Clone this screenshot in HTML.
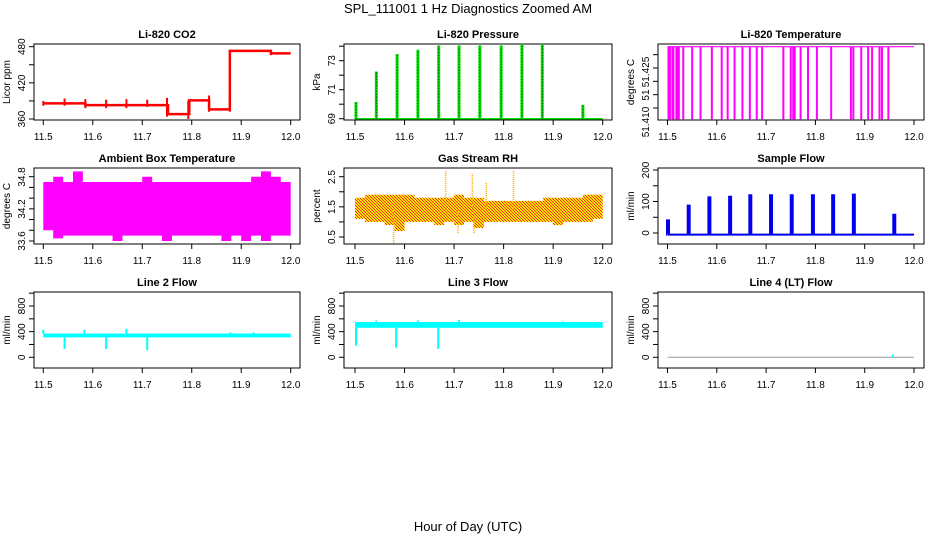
<!DOCTYPE html>
<html><head><meta charset="utf-8"><style>
body{margin:0;background:#fff}
svg{display:block}
text{font-family:"Liberation Sans",sans-serif;fill:#000}
</style></head><body>
<svg id="c" width="936" height="540" viewBox="0 0 936 540" xmlns="http://www.w3.org/2000/svg">
<defs>
<pattern id="rhp" width="3" height="3" patternUnits="userSpaceOnUse"><rect width="3" height="3" fill="#ffe000"/><rect width="1" height="1" fill="#f03010"/><rect x="1" y="1" width="1" height="1" fill="#f03010"/><rect x="2" y="2" width="1" height="1" fill="#f03010"/></pattern>
</defs>
<text x="468" y="13" font-size="13" text-anchor="middle">SPL_111001  1 Hz Diagnostics Zoomed AM</text>
<text x="468" y="531" font-size="13" text-anchor="middle">Hour of Day (UTC)</text>
</svg>
<script>
// ---- data ----
const xTicks = [11.5, 11.6, 11.7, 11.8, 11.9, 12.0];
const co2Times = [11.5, 11.585, 11.752, 11.795, 11.835, 11.877, 11.96, 12.0];
const co2Values = [386, 383, 368, 391, 376, 473, 469, 469];
const co2SpikeTimes = [11.5, 11.543, 11.585, 11.627, 11.668, 11.71, 11.75, 11.793, 11.835, 11.877, 11.96];
const co2SpikeHi = [390, 394, 393, 392, 393, 392, 395, 391, 399, 395, 475];
const co2SpikeLo = [382, 382, 378, 378, 378, 380, 364, 360, 372, 372, 466];
const presTimes = [11.502, 11.543, 11.585, 11.627, 11.669, 11.71, 11.752, 11.795, 11.837, 11.878, 11.96];
const presPeaks = [70.1, 72.2, 73.4, 73.7, 74.0, 74.0, 74.0, 74.0, 74.1, 74.1, 69.9];
const tempDropTimes = [11.502,11.505,11.51,11.512,11.518,11.52,11.523,11.532,11.55,11.567,11.59,11.61,11.622,11.636,11.652,11.667,11.681,11.692,11.735,11.75,11.755,11.758,11.77,11.785,11.803,11.832,11.872,11.877,11.893,11.907,11.915,11.93,11.935,11.948];
const tempTop = 51.433;
const tempLow = 51.4058;
const ambHi = [34.7,34.8,34.7,34.9,34.7,34.7,34.7,34.7,34.7,34.7,34.8,34.7,34.7,34.7,34.7,34.7,34.7,34.7,34.7,34.7,34.7,34.8,34.9,34.8,34.7];
const ambLo = [33.8,33.65,33.7,33.7,33.7,33.7,33.7,33.6,33.7,33.7,33.7,33.7,33.6,33.7,33.7,33.7,33.7,33.7,33.6,33.7,33.6,33.7,33.6,33.7,33.7];
const rhHi = [1.8,1.9,1.9,1.9,1.9,1.9,1.8,1.8,1.8,1.8,1.9,1.8,1.8,1.7,1.7,1.7,1.7,1.7,1.7,1.8,1.8,1.8,1.8,1.9,1.9];
const rhLo = [1.1,1.0,1.0,0.9,0.7,1.0,1.0,1.0,0.9,1.0,0.9,1.0,0.8,1.0,1.0,1.0,1.0,1.0,1.0,1.0,0.9,1.0,1.0,1.0,1.1];
const rhSpikeTimes = [11.683, 11.737, 11.765, 11.82, 11.578, 11.74, 11.708];
const rhSpikeValues = [2.7, 2.6, 2.3, 2.7, 0.3, 0.6, 0.6];
const flowTimes = [11.501, 11.543, 11.585, 11.627, 11.668, 11.71, 11.752, 11.795, 11.836, 11.878, 11.96];
const flowPeaks = [40, 87, 113, 115, 120, 120, 120, 120, 120, 122, 58];
const flowBase = -5;
const line2Band = [310, 370];
const line2DipTimes = [11.543, 11.627, 11.71];
const line2DipValues = [130, 130, 110];
const line2SpikeTimes = [11.5, 11.583, 11.668, 11.878, 11.925];
const line2SpikeValues = [430, 430, 445, 390, 390];
const line3Band = [460, 550];
const line3DipTimes = [11.502, 11.583, 11.668];
const line3DipValues = [180, 150, 130];
const line3SpikeTimes = [11.543, 11.627, 11.71, 11.92];
const line3SpikeValues = [575, 575, 580, 560];
const line4Base = 0;
const line4SpikeTimes = [11.957];
const line4SpikeValues = [45];

// ---- layout ----
const NS = 'http://www.w3.org/2000/svg';
const svg = document.getElementById('c');
const cols = [{l:34,r:300,x0:43.3,x1:290.7},{l:344,r:612,x0:355,x1:602.7},{l:658,r:924,x0:667.5,x1:914}];
const rows = [{t:44,b:120},{t:168,b:244},{t:292,b:368}];
function mk(tag, attrs, parent){const e=document.createElementNS(NS,tag);for(const k in attrs)e.setAttribute(k,attrs[k]);(parent||svg).appendChild(e);return e;}

function panel(ci, ri, name, title, ylab, yref, yTicks, yLabs, yLabPos){
  const c=cols[ci], r=rows[ri];
  const g=mk('g',{});
  
  
  const X=v=>c.x0+(v-11.5)/0.5*(c.x1-c.x0);
  const Y=v=>yref[1]+(v-yref[0])/(yref[2]-yref[0])*(yref[3]-yref[1]);
  const box=mk('rect',{x:c.l,y:r.t,width:c.r-c.l,height:r.b-r.t,fill:'none',stroke:'#000','stroke-width':1},g);
  
  
  const tt=mk('text',{x:(c.l+c.r)/2,y:r.t-6,'font-size':11,'font-weight':'bold','text-anchor':'middle'},g);
  tt.textContent=title;
  
  
  const xa=mk('g',{},g);
  
  
  mk('line',{x1:X(11.5),x2:X(12.0),y1:r.b,y2:r.b,stroke:'#000'},xa);
  xTicks.forEach(t=>{mk('line',{x1:X(t),x2:X(t),y1:r.b,y2:r.b+5,stroke:'#000'},xa);
    const tx=mk('text',{x:X(t),y:r.b+20,'font-size':10,'text-anchor':'middle'},xa);tx.textContent=t.toFixed(1);});
  const ya=mk('g',{},g);
  
  
  yTicks.forEach(t=>mk('line',{x1:c.l,x2:c.l-5,y1:Y(t),y2:Y(t),stroke:'#000'},ya));
  yLabs.forEach((t,i)=>{const yy=yLabPos?yLabPos[i]:Y(typeof t==='number'?t:0);
    const tx=mk('text',{x:c.l-9,y:yy,'font-size':10,'text-anchor':'middle',transform:`rotate(-90 ${c.l-9} ${yy})`},ya);tx.textContent=String(t);});
  const yt=mk('text',{x:c.l-24,y:(r.t+r.b)/2,'font-size':10,'text-anchor':'middle',transform:`rotate(-90 ${c.l-24} ${(r.t+r.b)/2})`},g);
  yt.textContent=ylab;
  
  
  const d=mk('g',{},g);
  
  
  return {X,Y,d};
}
function range(a,b,s){const o=[];for(let v=a;v<=b+1e-9;v+=s)o.push(+v.toFixed(4));return o;}
function bandPath(X,Y,hi,lo){const n=hi.length,w=0.5/n;let p='';
  for(let i=0;i<n;i++){p+=(i?'L':'M')+X(11.5+i*w)+','+Y(hi[i])+'L'+X(11.5+(i+1)*w)+','+Y(hi[i]);}
  for(let i=n-1;i>=0;i--){p+='L'+X(11.5+(i+1)*w)+','+Y(lo[i])+'L'+X(11.5+i*w)+','+Y(lo[i]);}
  return p+'Z';}

// CO2
{const p=panel(0,0,'co2','Li-820 CO2','Licor ppm',[360,119,480,46.7],range(360,480,30),[360,420,480]);
 let s='';co2Times.forEach((t,i)=>{if(i===0)s='M'+p.X(t)+','+p.Y(co2Values[i]);else s+='L'+p.X(t)+','+p.Y(co2Values[i-1])+'L'+p.X(t)+','+p.Y(co2Values[i]);});
 const l=mk('path',{d:s,fill:'none',stroke:'#ff0000','stroke-width':2.5},p.d);
 
 co2SpikeTimes.forEach((t,i)=>mk('line',{x1:p.X(t),x2:p.X(t),y1:p.Y(co2SpikeHi[i]),y2:p.Y(co2SpikeLo[i]),stroke:'#ff0000','stroke-width':2},p.d));}
// Pressure
{const p=panel(1,0,'pressure','Li-820 Pressure','kPa',[69,118.7,73,60.7],range(69,74,1),[69,71,73]);
 let s='M'+p.X(11.5)+','+p.Y(69);presTimes.forEach((t,i)=>{s+='L'+p.X(t-0.0015)+','+p.Y(69)+'L'+p.X(t-0.0015)+','+p.Y(presPeaks[i])+'L'+p.X(t+0.0015)+','+p.Y(presPeaks[i])+'L'+p.X(t+0.0015)+','+p.Y(69);});
 s+='L'+p.X(12.0)+','+p.Y(69);
 const l=mk('path',{d:s,fill:'none',stroke:'#00dd00','stroke-width':1.5},p.d);
 
 presTimes.forEach((t,i)=>mk('line',{x1:p.X(t),x2:p.X(t),y1:p.Y(69),y2:p.Y(presPeaks[i]),stroke:'#000','stroke-width':0.8,'stroke-dasharray':'1 2'},p.d));}
// Temperature
{const p=panel(2,0,'li820-temp','Li-820 Temperature','degrees C',[51.410,108,51.425,68],range(51.410,51.430,0.005),['51.410','51','51.425'],[122,95,72]);
 const l=mk('line',{x1:p.X(11.5),x2:p.X(12.0),y1:p.Y(tempTop),y2:p.Y(tempTop),stroke:'#ff00ff','stroke-width':1.2},p.d);
 
 tempDropTimes.forEach(t=>mk('line',{x1:p.X(t),x2:p.X(t),y1:p.Y(tempTop),y2:p.Y(tempLow),stroke:'#ff00ff','stroke-width':2},p.d));}
// Ambient
{const p=panel(0,1,'ambient-temp','Ambient Box Temperature','degrees C',[33.6,241,34.8,176.7],range(33.6,34.8,0.2),['33.6','34.2','34.8'],[241,209,177]);
 const b=mk('path',{d:bandPath(p.X,p.Y,ambHi,ambLo),fill:'#ff00ff'},p.d);
 }
// RH
{const p=panel(1,1,'gas-rh','Gas Stream RH','percent',[0.5,237,2.5,176.7],range(0.5,2.5,0.5),['0.5','1.5','2.5'],[237,207,177]);
 const b=mk('path',{d:bandPath(p.X,p.Y,rhHi,rhLo),fill:'url(#rhp)'},p.d);
 
 rhSpikeTimes.forEach((t,i)=>mk('line',{x1:p.X(t),x2:p.X(t),y1:p.Y(1.4),y2:p.Y(rhSpikeValues[i]),stroke:'#ffaa00','stroke-width':1.5,'stroke-dasharray':'1 1'},p.d));}
// Sample flow
{const p=panel(2,1,'sample-flow','Sample Flow','ml/min',[0,233,200,170],range(0,200,50),[0,100,200]);
 let s='M'+p.X(11.5)+','+p.Y(flowBase);flowTimes.forEach((t,i)=>{s+='L'+p.X(t-0.002)+','+p.Y(flowBase)+'L'+p.X(t-0.002)+','+p.Y(flowPeaks[i])+'L'+p.X(t+0.002)+','+p.Y(flowPeaks[i])+'L'+p.X(t+0.002)+','+p.Y(flowBase);});
 s+='L'+p.X(12.0)+','+p.Y(flowBase);
 const l=mk('path',{d:s,fill:'none',stroke:'#0000ee','stroke-width':2},p.d);
 }
// Line flows
function linePanel(ci,name,title,band,dT,dV,sT,sV){
 const p=panel(ci,2,name,title,'ml/min',[0,357.3,800,306],range(0,1000,200),[0,400,800]);
 const b=mk('rect',{x:p.X(11.5),y:p.Y(band[1]),width:p.X(12.0)-p.X(11.5),height:p.Y(band[0])-p.Y(band[1]),fill:'#00ffff'},p.d);
 
 dT.forEach((t,i)=>mk('line',{x1:p.X(t),x2:p.X(t),y1:p.Y(band[0]),y2:p.Y(dV[i]),stroke:'#00ffff','stroke-width':2},p.d));
 sT.forEach((t,i)=>mk('line',{x1:p.X(t),x2:p.X(t),y1:p.Y(band[1]),y2:p.Y(sV[i]),stroke:'#00ffff','stroke-width':2},p.d));
}
linePanel(0,'line2-flow','Line 2 Flow',line2Band,line2DipTimes,line2DipValues,line2SpikeTimes,line2SpikeValues);
linePanel(1,'line3-flow','Line 3 Flow',line3Band,line3DipTimes,line3DipValues,line3SpikeTimes,line3SpikeValues);
{const p=panel(2,2,'line4-flow','Line 4 (LT) Flow','ml/min',[0,357.3,800,306],range(0,1000,200),[0,400,800]);
 const l=mk('line',{x1:p.X(11.5),x2:p.X(12.0),y1:p.Y(line4Base),y2:p.Y(line4Base),stroke:'#999','stroke-width':1},p.d);
 
 line4SpikeTimes.forEach((t,i)=>mk('line',{x1:p.X(t),x2:p.X(t),y1:p.Y(line4Base),y2:p.Y(line4SpikeValues[i]),stroke:'#00ffff','stroke-width':2},p.d));}
</script>
</body></html>
